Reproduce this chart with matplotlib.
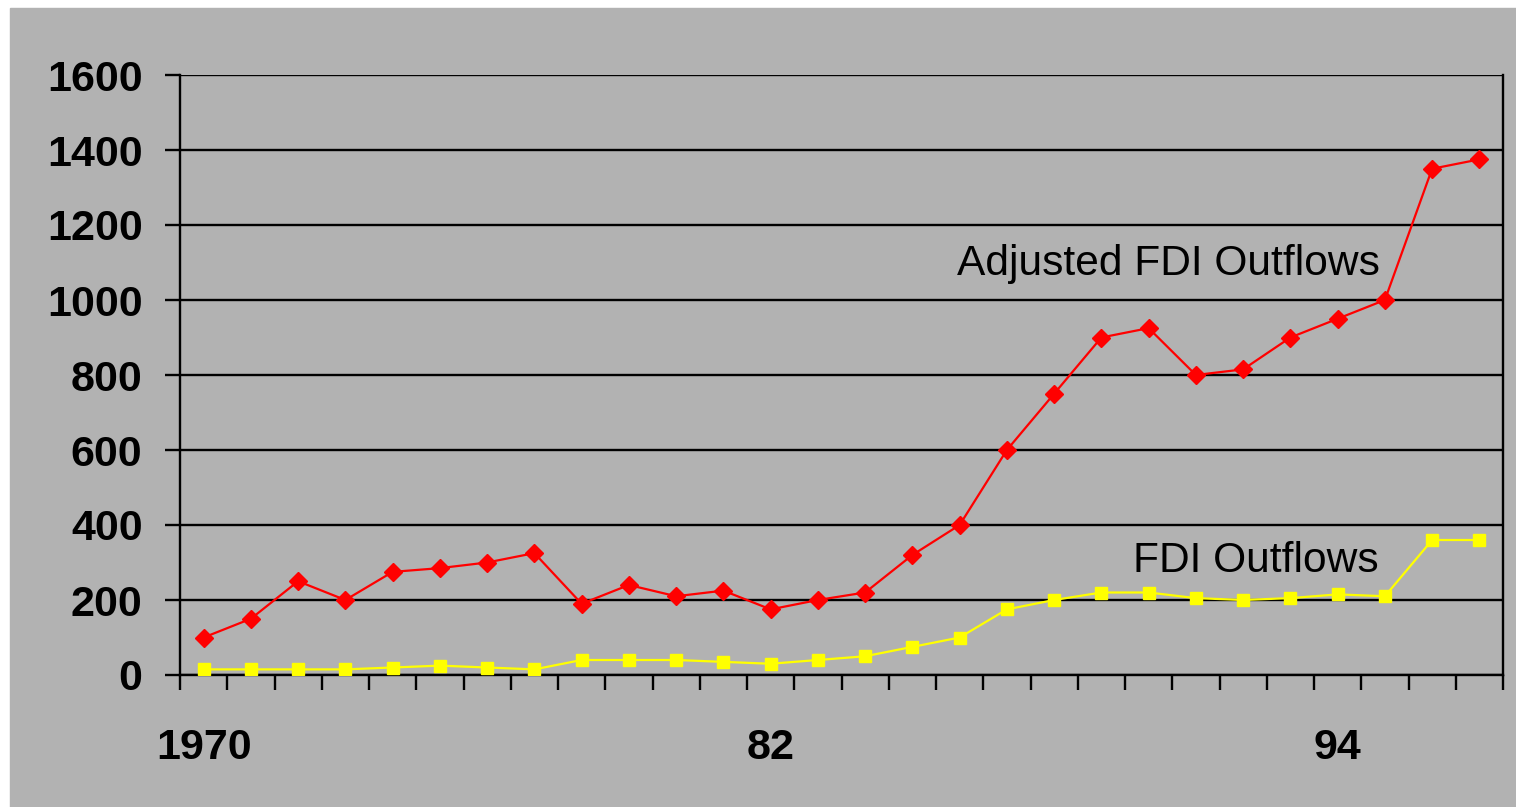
# FDI outflows vs adjusted FDI outflows, 1970-1997

import numpy as np
import matplotlib.pyplot as plt

years = list(range(1970, 1998))
adjusted_fdi = [100, 150, 250, 200, 275, 285, 300, 325, 190, 240,
                210, 225, 175, 200, 220, 320, 400, 600, 750, 900,
                925, 800, 815, 900, 950, 1000, 1350, 1375]
fdi = [15, 15, 15, 15, 20, 25, 20, 15, 40, 40,
       40, 35, 30, 40, 50, 75, 100, 175, 200, 220,
       220, 205, 200, 205, 215, 210, 360, 360]
year_labels = {1970: '1970', 1982: '82', 1994: '94'}

grey = '#b2b2b2'
plt.rcParams['font.family'] = ['Liberation Sans', 'DejaVu Sans']

fig = plt.figure(figsize=(15.16, 8.07), dpi=100)
fig.patch.set_facecolor('white')
# grey panel behind the whole chart
fig.patches.append(plt.Rectangle((10 / 1516, 0), 1, 1 - 8 / 807,
                                 transform=fig.transFigure, color=grey, zorder=-10))

ax = fig.add_axes([180 / 1516, 132 / 807, 1323 / 1516, 600 / 807])
ax.set_facecolor(grey)

x = np.arange(len(years))
ax.plot(x, adjusted_fdi, color='red', lw=1.6, marker='D', ms=9, zorder=3)
ax.plot(x, fdi, color='yellow', lw=1.6, marker='s', ms=8.5, zorder=3)

ax.set_xlim(-0.5, len(years) - 0.5)
ax.set_ylim(0, 1600)
ax.set_yticks(range(0, 1601, 200))
ax.yaxis.grid(True, color='black', lw=1.7)
ax.set_axisbelow(True)

for side in ['left', 'right', 'bottom', 'top']:
    ax.spines[side].set_color('black')
    ax.spines[side].set_linewidth(1.7)
ax.spines['top'].set_visible(False)

# ticks between categories, labels only on a few years
ax.set_xticks(np.arange(-0.5, len(years), 1))
ax.set_xticklabels([])
ax.tick_params(axis='x', which='major', length=11, width=1.7, direction='out')
lab_pos = [years.index(y) for y in year_labels]
ax.set_xticks(lab_pos, minor=True)
ax.set_xticklabels(list(year_labels.values()), minor=True)
ax.tick_params(axis='x', which='minor', length=0, pad=38, labelsize=31)
for t in ax.get_xticklabels(minor=True):
    t.set_fontweight('bold')

ax.tick_params(axis='y', length=11, width=1.7, direction='out', pad=16, labelsize=31)
for t in ax.get_yticklabels():
    t.set_fontweight('bold')

ax.text(24.9, 1067, 'Adjusted FDI Outflows', fontsize=30.6, ha='right', va='baseline')
ax.text(24.86, 275, 'FDI Outflows', fontsize=30.6, ha='right', va='baseline')

plt.savefig('out.png', dpi=100, facecolor=fig.get_facecolor())
